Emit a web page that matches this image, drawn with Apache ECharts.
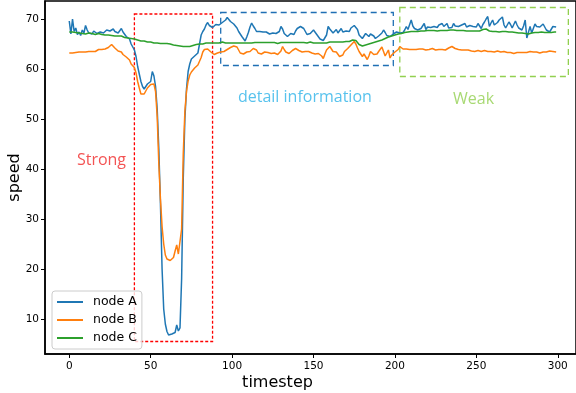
<!DOCTYPE html>
<html>
<head>
<meta charset="utf-8">
<script src="https://cdn.jsdelivr.net/npm/echarts@6/dist/echarts.min.js"></script>
<style>
  html, body { margin: 0; padding: 0; background: #fff; }
  #chart { width: 576px; height: 393px; }
</style>
</head>
<body>
<div id="chart"></div>
<script>
// speed per timestep (t = 0..299)
const nodeA = [
  69.6, 67.0, 70.0, 67.5, 68.2, 66.9, 67.4, 66.7, 67.8, 67.2,
  68.7, 67.8, 67.2, 67.5, 67.0, 67.6, 67.3, 67.1, 66.9, 67.4,
  67.7, 67.2, 67.3, 67.8, 68.1, 67.6, 67.9, 68.0, 67.5, 67.8,
  67.2, 67.6, 68.1, 67.4, 67.0, 66.5, 66.4, 66.0, 65.0, 64.6,
  63.8, 62.5, 60.5, 59.0, 57.5, 56.5, 56.0, 56.3, 57.0, 56.8,
  57.5, 59.5, 58.6, 56.5, 52.0, 44.0, 33.0, 20.0, 12.0, 9.0,
  7.5, 6.8, 6.5, 7.0, 6.6, 7.3, 8.8, 7.6, 8.2, 18.0,
  38.0, 50.0, 56.0, 59.5, 61.0, 62.0, 62.3, 62.6, 62.4, 63.2,
  65.0, 66.8, 67.5, 68.0, 68.8, 69.3, 68.7, 68.4, 68.3, 68.6,
  68.9, 68.5, 68.8, 69.0, 69.3, 69.5, 69.8, 70.3, 70.1, 69.5,
  69.1, 69.0, 68.8, 68.2, 67.5, 67.1, 66.5, 66.2, 65.6, 66.4,
  67.3, 68.4, 69.2, 68.6, 68.1, 67.5, 67.1, 67.5, 67.8, 67.4,
  67.1, 67.4, 67.2, 67.0, 67.4, 67.2, 67.5, 67.1, 66.8, 67.5,
  68.5, 68.0, 67.1, 66.7, 66.5, 66.9, 67.1, 66.8, 66.9, 67.6,
  68.1, 68.2, 68.5, 68.3, 68.1, 67.5, 66.9, 67.0, 67.1, 67.2,
  67.8, 67.4, 66.9, 66.7, 66.0, 65.8, 65.7, 65.5, 66.8, 68.5,
  68.0, 67.8, 67.2, 67.5, 67.9, 67.2, 67.5, 68.1, 67.4, 67.0,
  67.6, 68.0, 67.5, 68.2, 68.5, 68.7, 68.8, 67.9, 66.8, 66.4,
  66.1, 66.5, 67.1, 66.8, 66.5, 67.0, 67.1, 66.6, 66.1, 66.3,
  66.6, 66.8, 67.2, 67.8, 67.3, 66.7, 66.6, 66.5, 66.6, 67.0,
  67.1, 67.4, 67.3, 67.2, 67.1, 67.3, 67.8, 68.5, 67.9, 67.8,
  69.8, 68.6, 68.1, 68.0, 67.8, 68.0, 68.1, 68.6, 69.1, 67.9,
  68.4, 68.8, 68.3, 68.1, 68.5, 68.5, 68.3, 68.8, 68.6, 69.1,
  68.5, 68.4, 69.1, 68.2, 68.6, 68.3, 69.1, 68.6, 68.3, 68.5,
  68.7, 68.8, 68.6, 69.1, 68.4, 68.1, 68.7, 69.1, 68.5, 68.5,
  68.4, 69.1, 68.6, 68.1, 68.9, 69.4, 70.0, 70.5, 68.5, 69.2,
  69.8, 68.8, 68.5, 69.3, 69.8, 70.1, 70.4, 68.8, 68.2, 68.6,
  69.4, 68.9, 68.2, 68.9, 69.6, 68.8, 68.2, 68.0, 67.8, 68.6,
  69.8, 66.2, 65.8, 68.5, 67.2, 68.1, 69.0, 68.5, 68.1, 68.4,
  68.5, 69.0, 69.4, 67.8, 67.6, 67.4, 67.8, 68.5, 68.3, 68.4
];
const nodeB = [
  63.2, 63.3, 63.2, 63.4, 63.3, 63.2, 63.4, 63.3, 63.4, 63.3,
  63.4, 63.3, 63.5, 63.4, 63.5, 63.6, 63.5, 63.7, 63.9, 63.8,
  63.9, 63.8, 64.0, 64.1, 64.3, 64.6, 64.9, 65.0, 64.2, 63.8,
  63.6, 63.5, 63.4, 62.9, 62.5, 62.4, 62.2, 61.8, 61.0, 60.6,
  60.3, 59.2, 57.5, 56.2, 55.0, 54.6, 55.0, 55.6, 56.2, 56.6,
  56.9, 57.3, 57.0, 55.5, 50.5, 41.0, 34.0, 28.5, 25.0, 22.8,
  22.0, 21.8, 21.7, 22.0, 22.3, 23.6, 24.8, 23.0, 22.7, 28.0,
  43.0, 51.5, 55.5, 57.6, 58.8, 59.4, 59.8, 60.2, 60.5, 60.8,
  61.1, 62.3, 63.4, 63.9, 64.1, 64.0, 63.8, 63.4, 63.1, 62.9,
  62.8, 63.2, 63.5, 63.4, 63.6, 63.5, 63.7, 63.9, 64.1, 64.3,
  64.5, 64.6, 64.8, 64.4, 63.8, 63.2, 62.8, 63.0, 63.2, 63.4,
  63.3, 63.5, 63.9, 64.1, 63.9, 63.8, 63.2, 62.8, 63.0, 63.2,
  63.4, 63.5, 63.3, 63.2, 63.1, 63.3, 63.2, 63.0, 62.9, 62.8,
  63.6, 64.5, 63.9, 63.4, 63.2, 63.1, 63.4, 63.7, 63.9, 64.1,
  63.8, 63.7, 63.6, 63.4, 63.5, 63.5, 63.4, 63.5, 63.3, 63.2,
  63.1, 63.0, 62.8, 63.1, 63.2, 62.6, 62.1, 63.0, 63.8, 64.2,
  64.5, 64.0, 63.5, 63.8, 63.4, 63.2, 62.5, 62.6, 62.8, 63.5,
  63.9, 64.1, 64.5, 64.8, 65.2, 65.5, 65.0, 64.2, 63.5, 63.0,
  62.5, 63.0, 63.4, 61.9, 62.6, 63.5, 63.2, 62.9, 62.5, 63.0,
  63.5, 63.9, 64.4, 63.5, 62.6, 63.2, 63.8, 62.2, 62.8, 63.2,
  63.4, 63.5, 63.9, 64.5, 64.2, 64.0, 63.9, 64.0, 63.8, 63.9,
  64.0, 63.9, 63.8, 63.9, 63.8, 64.0, 64.1, 64.0, 63.9, 63.8,
  63.8, 63.9, 64.0, 64.1, 63.9, 63.8, 63.9, 63.9, 63.8, 63.9,
  63.8, 63.8, 64.0, 64.2, 64.4, 64.5, 64.3, 64.1, 64.0, 63.9,
  63.9, 63.8, 63.9, 63.8, 63.7, 63.8, 63.7, 63.6, 63.5, 63.5,
  63.6, 63.7, 63.6, 63.5, 63.6, 63.7, 63.6, 63.5, 63.6, 63.5,
  63.5, 63.4, 63.5, 63.6, 63.5, 63.4, 63.5, 63.5, 63.4, 63.3,
  63.4, 63.3, 63.2, 63.1, 63.2, 63.3, 63.4, 63.3, 63.2, 63.3,
  63.4, 63.3, 63.4, 63.5, 63.3, 63.4, 63.3, 63.4, 63.3, 63.2,
  63.3, 63.4, 63.3, 63.4, 63.5, 63.6, 63.4, 63.5, 63.4, 63.4
];
const nodeC = [
  67.4, 67.3, 67.4, 67.2, 67.3, 67.1, 67.2, 67.3, 67.1, 67.2,
  67.0, 67.1, 67.2, 67.0, 67.1, 67.0, 66.9, 67.0, 67.1, 66.9,
  66.9, 67.0, 66.8, 66.9, 66.8, 66.8, 66.7, 66.8, 66.6, 66.7,
  66.6, 66.5, 66.6, 66.4, 66.3, 66.2, 66.2, 66.0, 66.1, 65.9,
  66.0, 65.8, 65.8, 65.7, 65.6, 65.5, 65.6, 65.4, 65.4, 65.3,
  65.4, 65.3, 65.2, 65.3, 65.2, 65.2, 65.1, 65.2, 65.1, 65.0,
  65.1, 65.0, 65.0, 64.9, 64.8, 64.9, 64.7, 64.8, 64.6, 64.6,
  64.5, 64.6, 64.5, 64.6, 64.5, 64.6, 64.7, 64.8, 64.9, 65.0,
  65.0, 65.1, 65.0, 65.1, 65.2, 65.1, 65.2, 65.1, 65.2, 65.3,
  65.2, 65.3, 65.2, 65.3, 65.4, 65.3, 65.2, 65.3, 65.2, 65.3,
  65.2, 65.3, 65.2, 65.1, 65.2, 65.1, 65.2, 65.3, 65.2, 65.1,
  65.2, 65.3, 65.2, 65.2, 65.3, 65.4, 65.3, 65.2, 65.3, 65.2,
  65.3, 65.2, 65.3, 65.4, 65.3, 65.2, 65.3, 65.2, 65.1, 65.2,
  65.3, 65.2, 65.3, 65.2, 65.3, 65.4, 65.3, 65.2, 65.3, 65.2,
  65.3, 65.2, 65.3, 65.2, 65.3, 65.3, 65.2, 65.3, 65.4, 65.3,
  65.2, 65.3, 65.2, 65.3, 65.2, 65.1, 65.2, 65.3, 65.2, 65.3,
  65.4, 65.3, 65.4, 65.5, 65.4, 65.5, 65.4, 65.5, 65.4, 65.5,
  65.5, 65.6, 65.5, 65.6, 65.8, 65.9, 65.7, 65.3, 64.9, 64.7,
  64.6, 64.6, 64.8, 64.9, 65.0, 65.1, 65.2, 65.3, 65.4, 65.5,
  65.6, 65.7, 65.8, 65.9, 66.1, 66.2, 66.4, 66.5, 66.6, 66.7,
  66.8, 66.9, 67.0, 67.1, 67.1, 67.2, 67.3, 67.3, 67.4, 67.4,
  67.5, 67.5, 67.5, 67.6, 67.5, 67.6, 67.6, 67.5, 67.6, 67.6,
  67.7, 67.6, 67.7, 67.6, 67.7, 67.7, 67.6, 67.7, 67.7, 67.8,
  67.7, 67.8, 67.7, 67.7, 67.8, 67.7, 67.8, 67.7, 67.7, 67.6,
  67.7, 67.6, 67.7, 67.7, 67.6, 67.7, 67.6, 67.7, 67.6, 67.7,
  67.6, 67.7, 67.6, 67.8, 67.9, 68.1, 68.0, 67.8, 67.6, 67.5,
  67.5, 67.6, 67.5, 67.5, 67.4, 67.5, 67.5, 67.4, 67.5, 67.4,
  67.4, 67.3, 67.4, 67.3, 67.3, 67.2, 67.2, 67.3, 67.2, 67.1,
  67.1, 67.0, 67.0, 67.1, 67.2, 67.2, 67.3, 67.2, 67.3, 67.4,
  67.4, 67.4, 67.3, 67.4, 67.3, 67.4, 67.3, 67.4, 67.4, 67.4
];
const seriesNames = ["node A", "node B", "node C"];
const xTicks = [0, 50, 100, 150, 200, 250, 300];
const yTicks = [10, 20, 30, 40, 50, 60, 70];

// highlighted regions: [x0, x1, y0, y1] in data units
const strongBox = [40, 88, 5.5, 71];
const detailBox = [93, 199, 60.7, 71.3];
const weakBox = [203, 306.5, 58.5, 72.3];
// text notes: [x, y, text]
const notes = [
  [4.7, 41.8, "Strong"],
  [103.6, 54.4, "detail information"],
  [235.7, 54.0, "Weak"]
];

const colors = ["#1f77b4", "#ff7f0e", "#2ca02c"];
const noteColors = ["#f02828", "#2db3e8", "#92d050"];

function toPairs(arr) {
  return arr.map((v, i) => [i, v]);
}

function box(b, color, dash) {
  return [
    {
      coord: [b[0], b[3]],
      itemStyle: { color: "transparent", borderColor: color, borderWidth: 1.3, borderType: dash }
    },
    { coord: [b[1], b[2]] }
  ];
}

let myChart = echarts.init(document.getElementById("chart"));
var option;
option = {
  animation: false,
  grid: {
    left: 45, right: 0, top: 1, bottom: 39,
    outerBoundsMode: "none",
    containLabel: false,
    show: true,
    borderColor: "#000",
    borderWidth: 1.5,
    backgroundColor: "transparent"
  },
  xAxis: {
    type: "value",
    min: -14.9,
    max: 311.2,
    name: "timestep",
    nameLocation: "middle",
    nameGap: 21,
    nameMoveOverlap: false,
    nameTextStyle: { fontFamily: "DejaVu Sans", fontSize: 16, color: "#000", padding: [0, 66, 0, 0] },
    axisLine: { onZero: false, lineStyle: { color: "#000", width: 1.5 } },
    axisTick: { show: true, length: 4, lineStyle: { color: "#000" }, customValues: xTicks },
    axisLabel: { fontFamily: "DejaVu Sans", fontSize: 10.5, color: "#000", margin: 7, customValues: xTicks },
    splitLine: { show: false }
  },
  yAxis: {
    type: "value",
    min: 3.0,
    max: 73.6,
    name: "speed",
    nameLocation: "middle",
    nameGap: 22,
    nameMoveOverlap: false,
    nameTextStyle: { fontFamily: "DejaVu Sans", fontSize: 16, color: "#000" },
    axisLine: { show: true, onZero: false, lineStyle: { color: "#000", width: 1.5 } },
    axisTick: { show: true, length: 4, lineStyle: { color: "#000" }, customValues: yTicks },
    axisLabel: { fontFamily: "DejaVu Sans", fontSize: 10.5, color: "#000", margin: 6, customValues: yTicks },
    splitLine: { show: false }
  },
  legend: {
    data: seriesNames,
    orient: "vertical",
    left: 52,
    top: 291,
    icon: "rect",
    itemWidth: 26,
    itemHeight: 2,
    itemGap: 4,
    padding: [4, 5, 4, 5],
    backgroundColor: "rgba(255,255,255,0.8)",
    borderColor: "#cccccc",
    borderWidth: 1,
    borderRadius: 3,
    textStyle: { fontFamily: "DejaVu Sans", fontSize: 12.5, color: "#000", lineHeight: 14, padding: [0, 0, 0, 5] }
  },
  series: [
    ...seriesNames.map((name, k) => ({
      name: name,
      type: "line",
      data: toPairs([nodeA, nodeB, nodeC][k]),
      showSymbol: false,
      color: colors[k],
      lineStyle: { width: 1.5 },
      z: 3
    })),
    {
      name: "boxes",
      type: "line",
      data: [],
      markArea: {
        silent: true,
        data: [
          box(strongBox, "#ff0000", [3, 2]),
          box(detailBox, "#1f6fb4", [6, 4]),
          box(weakBox, "#92d050", [6, 4])
        ]
      },
      z: 4
    },
    {
      name: "notes",
      type: "scatter",
      symbolSize: 0,
      silent: true,
      data: notes.map((n, k) => ({
        value: [n[0], n[1]],
        label: {
          show: true,
          position: [0, 0],
          align: "left",
          verticalAlign: "middle",
          formatter: n[2],
          fontFamily: "Open Sans",
          fontSize: 16,
          color: noteColors[k]
        }
      }))
    }
  ]
};
option && myChart.setOption(option);
</script>
</body>
</html>
